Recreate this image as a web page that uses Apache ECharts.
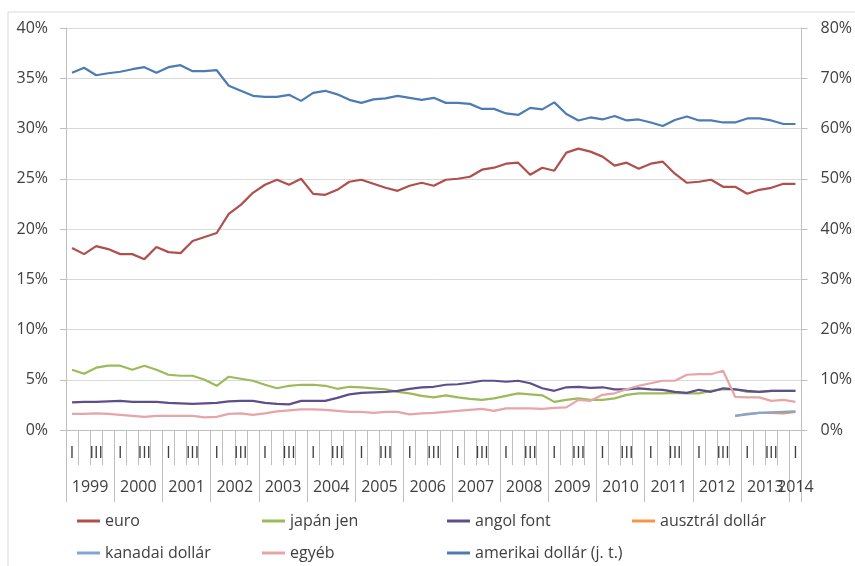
<!DOCTYPE html>
<html>
<head>
<meta charset="utf-8">
<script src="https://cdn.jsdelivr.net/npm/echarts@6/dist/echarts.min.js"></script>
<style>
  html, body { margin: 0; padding: 0; background: #fff; }
  #chart { width: 855px; height: 566px; }
</style>
</head>
<body>
<div id="chart"></div>
<script>
// Quarterly categories, 1999 Q1 - 2014 Q1
const years = ['1999','2000','2001','2002','2003','2004','2005','2006','2007','2008','2009','2010','2011','2012','2013','2014'];
const quarters = ['I','II','III','IV'];
const quarterShown = [true, false, true, false];

// Shares, % (left axis)
const euro = [18.1,17.5,18.3,18.0,17.5,17.5,17.0,18.2,17.7,17.6,18.8,19.2,19.6,21.5,22.4,23.6,24.4,
  24.9,24.4,25.0,23.5,23.4,23.9,24.7,24.9,24.5,24.1,23.8,24.3,24.6,24.3,24.9,25.0,25.2,25.9,26.1,26.5,26.6,25.4,26.1,
  25.8,27.6,28.0,27.7,27.2,26.3,26.6,26.0,26.5,26.7,25.5,24.6,24.7,24.9,24.2,24.2,23.5,23.9,24.1,24.5,24.5];
const japanJen = [6.0,5.6,6.2,6.4,6.4,6.0,6.4,6.0,5.5,5.4,5.4,5.0,4.4,5.3,5.1,4.9,4.5,
  4.15,4.4,4.5,4.5,4.4,4.1,4.3,4.25,4.15,4.05,3.8,3.65,3.4,3.25,3.45,3.25,3.1,3.0,3.15,3.4,3.65,3.55,3.45,
  2.8,3.0,3.15,3.0,3.0,3.15,3.5,3.65,3.65,3.65,3.7,3.65,3.65,3.9,4.05,4.05,3.8,3.8,3.9,3.9,3.9];
const angolFont = [2.75,2.8,2.8,2.85,2.9,2.8,2.8,2.8,2.7,2.65,2.6,2.65,2.7,2.85,2.9,2.9,2.7,
  2.6,2.55,2.9,2.9,2.9,3.2,3.55,3.7,3.75,3.8,3.9,4.1,4.25,4.3,4.5,4.55,4.7,4.9,4.9,4.8,4.9,4.65,4.15,
  3.9,4.25,4.3,4.2,4.25,4.05,4.05,4.15,4.05,4.0,3.8,3.7,4.0,3.8,4.15,4.05,3.9,3.8,3.9,3.9,3.9];
const ausztralDollar = [null,null,null,null,null,null,null,null,null,null,null,null,null,null,null,null,null,
  null,null,null,null,null,null,null,null,null,null,null,null,null,null,null,null,null,null,null,null,null,null,null,
  null,null,null,null,null,null,null,null,null,null,null,null,null,null,null,1.4,1.6,1.7,1.7,1.65,1.8];
const kanadaiDollar = [null,null,null,null,null,null,null,null,null,null,null,null,null,null,null,null,null,
  null,null,null,null,null,null,null,null,null,null,null,null,null,null,null,null,null,null,null,null,null,null,null,
  null,null,null,null,null,null,null,null,null,null,null,null,null,null,null,1.4,1.55,1.7,1.75,1.8,1.85];
const egyeb = [1.6,1.6,1.65,1.6,1.5,1.4,1.3,1.4,1.4,1.4,1.4,1.25,1.3,1.6,1.65,1.5,1.65,
  1.85,1.95,2.05,2.05,2.0,1.9,1.8,1.8,1.7,1.8,1.8,1.55,1.65,1.7,1.8,1.9,2.0,2.1,1.9,2.15,2.15,2.15,2.1,
  2.2,2.25,3.0,2.9,3.5,3.65,4.05,4.4,4.65,4.9,4.9,5.5,5.55,5.55,5.9,3.3,3.25,3.25,2.9,3.0,2.8];
// US dollar share, % (right axis)
const amerikaiDollar = [71.1,72.1,70.6,71.0,71.3,71.8,72.2,71.1,72.2,72.6,71.4,71.4,71.6,68.5,67.5,66.5,66.3,
  66.3,66.7,65.5,67.1,67.5,66.8,65.7,65.1,65.8,66.0,66.5,66.1,65.7,66.1,65.1,65.1,64.9,63.9,63.9,63.0,62.7,64.1,63.8,
  65.2,62.9,61.6,62.2,61.8,62.5,61.6,61.8,61.2,60.5,61.7,62.4,61.6,61.6,61.2,61.2,62.0,62.0,61.6,60.9,60.9];

const seriesNames = ['euro','japán jen','angol font','ausztrál dollár','kanadai dollár','egyéb','amerikai dollár (j. t.)'];
const seriesData = [euro, japanJen, angolFont, ausztralDollar, kanadaiDollar, egyeb, amerikaiDollar];
const seriesColors = ['#B0504D','#9BBB59','#5D4F8B','#F79646','#7EA6D8','#E6A5A8','#4D7CB3'];

const categories = [];
years.forEach(function (y, yi) {
  quarters.forEach(function (q) {
    if (yi < years.length - 1 || q === 'I') categories.push(y + ' ' + q);
  });
});

const FONT = 'Open Sans';
const TXT = '#404040';
const AXIS = '#BFBFBF';

const chart = echarts.init(document.getElementById('chart'), null, { renderer: 'canvas' });

chart.setOption({
  animation: false,
  backgroundColor: '#fff',
  textStyle: { fontFamily: FONT },
  graphic: [{
    type: 'rect',
    shape: { x: 8, y: 12, width: 900, height: 600 },
    style: { fill: null, stroke: '#D9D9D9', lineWidth: 1 },
    silent: true
  }],
  grid: { left: 66, right: 44, top: 28, bottom: 136, containLabel: false },
  legend: {
    left: 77, top: 506, width: 770, padding: 0,
    orient: 'horizontal',
    icon: 'rect', itemWidth: 23, itemHeight: 3, itemGap: 2,
    textStyle: { fontFamily: FONT, fontSize: 16, color: TXT, width: 155, lineHeight: 30 },
    data: seriesNames
  },
  xAxis: [{
    type: 'category',
    data: categories,
    boundaryGap: true,
    axisLine: { show: true, lineStyle: { color: AXIS, width: 1 } },
    axisTick: { show: true, interval: 0, length: 35, lineStyle: { color: AXIS } },
    axisLabel: {
      interval: 0, margin: 15, fontFamily: FONT, fontSize: 16, color: TXT,
      formatter: function (v, i) { const q = i % 4; return quarterShown[q] ? quarters[q] : ''; }
    },
    splitLine: { show: false }
  }, {
    type: 'category',
    data: categories,
    boundaryGap: true,
    position: 'bottom',
    axisLine: { show: false },
    axisTick: { show: true, interval: function (i) { return i % 4 === 0; }, length: 72, lineStyle: { color: AXIS } },
    axisLabel: {
      interval: 0, margin: 49, fontFamily: FONT, fontSize: 16, color: TXT,
      formatter: function (v, i) {
        const yi = Math.floor(i / 4);
        if (yi === years.length - 1) return i % 4 === 0 ? '{b|' + years[yi] + '}' : '';
        return i % 4 === 1 ? '{a|' + years[yi] + '}' : '';
      },
      rich: {
        a: { padding: [0, 0, 0, 12], fontFamily: FONT, fontSize: 16, color: TXT },
        b: { fontFamily: FONT, fontSize: 16, color: TXT }
      }
    },
    splitLine: { show: false }
  }],
  yAxis: [{
    type: 'value', min: 0, max: 40, interval: 5, position: 'left',
    axisLine: { show: true, lineStyle: { color: AXIS } },
    axisTick: { show: true, length: 6, lineStyle: { color: AXIS } },
    axisLabel: { formatter: '{value}%', margin: 18, fontFamily: FONT, fontSize: 16, color: TXT },
    splitLine: { show: true, lineStyle: { color: '#D9D9D9', width: 1 } }
  }, {
    type: 'value', min: 0, max: 80, interval: 10, position: 'right',
    axisLine: { show: true, lineStyle: { color: AXIS } },
    axisTick: { show: true, length: 6, lineStyle: { color: AXIS } },
    axisLabel: { formatter: '{value}%', margin: 19, fontFamily: FONT, fontSize: 16, color: TXT },
    splitLine: { show: false }
  }],
  series: seriesNames.map(function (name, k) {
    return {
      name: name,
      type: 'line',
      data: seriesData[k],
      yAxisIndex: k === seriesNames.length - 1 ? 1 : 0,
      xAxisIndex: 0,
      symbol: 'none',
      connectNulls: false,
      color: seriesColors[k],
      lineStyle: { color: seriesColors[k], width: 2.2 },
      itemStyle: { color: seriesColors[k] },
      emphasis: { disabled: true }
    };
  })
});
</script>
</body>
</html>
